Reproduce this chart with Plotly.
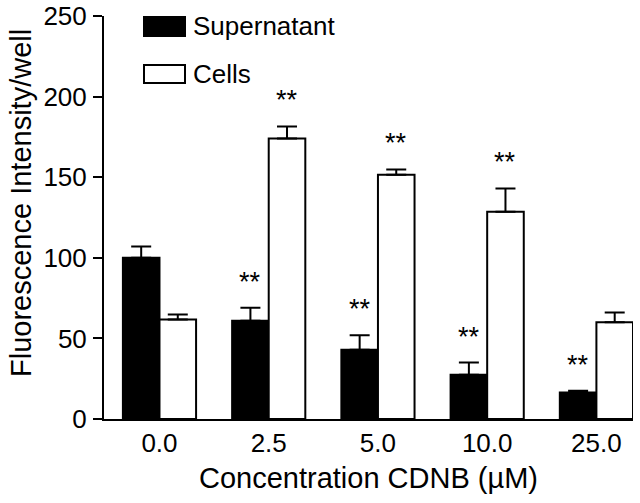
import plotly.graph_objects as go

categories = ["0.0", "2.5", "5.0", "10.0", "25.0"]
supernatant = [100, 61, 43, 27.5, 16.5]
supernatant_err = [7, 8, 9, 7.5, 1]
cells = [61.8, 174, 151.5, 128.5, 60]
cells_err = [3, 7.5, 3.3, 14.5, 6]
sup_sig = ["", "**", "**", "**", "**"]
cells_sig = ["", "**", "**", "**", ""]
y_ticks = [0, 50, 100, 150, 200, 250]

FONT = "Liberation Sans, Arial, sans-serif"
x = list(range(len(categories)))
bargap = 0.33
half = (1 - bargap) / 4

fig = go.Figure()
fig.add_trace(go.Bar(
    x=x, y=supernatant, name="Supernatant",
    marker=dict(color="black", line=dict(color="black", width=2)),
    error_y=dict(type="data", symmetric=False, array=supernatant_err,
                 arrayminus=[0] * len(x), color="black", thickness=2, width=10),
    showlegend=False,
))
fig.add_trace(go.Bar(
    x=x, y=cells, name="Cells",
    marker=dict(color="white", line=dict(color="black", width=2)),
    error_y=dict(type="data", symmetric=False, array=cells_err,
                 arrayminus=[0] * len(x), color="black", thickness=2, width=10),
    showlegend=False,
))

annotations = []
for i in x:
    if sup_sig[i]:
        annotations.append(dict(x=i - half, y=supernatant[i] + supernatant_err[i],
                                xref="x", yref="y", text=sup_sig[i], showarrow=False,
                                yanchor="bottom", yshift=9,
                                font=dict(family=FONT, size=27, color="black")))
    if cells_sig[i]:
        annotations.append(dict(x=i + half, y=cells[i] + cells_err[i],
                                xref="x", yref="y", text=cells_sig[i], showarrow=False,
                                yanchor="bottom", yshift=9,
                                font=dict(family=FONT, size=27, color="black")))

# pixel -> paper helpers for legend / title
L, R, T, B = 104, 7, 16, 84
W, H = 640, 503
pw, ph = W - L - R, H - T - B
def px(xp):
    return (xp - L) / pw
def py(yp):
    return (H - B - yp) / ph

shapes = [
    dict(type="rect", xref="paper", yref="paper", x0=px(144), x1=px(185), y0=py(36), y1=py(17),
         fillcolor="black", line=dict(color="black", width=2)),
    dict(type="rect", xref="paper", yref="paper", x0=px(144), x1=px(185), y0=py(83), y1=py(65),
         fillcolor="white", line=dict(color="black", width=2)),
]
annotations += [
    dict(x=px(191), y=py(26), xref="paper", yref="paper", text="Supernatant", showarrow=False,
         xanchor="left", yanchor="middle", font=dict(family=FONT, size=26, color="black")),
    dict(x=px(191), y=py(74), xref="paper", yref="paper", text="Cells", showarrow=False,
         xanchor="left", yanchor="middle", font=dict(family=FONT, size=26, color="black")),
    dict(x=px(21), y=py(203), xref="paper", yref="paper", text="Fluorescence Intensity/well",
         showarrow=False, textangle=-90, xanchor="center", yanchor="middle",
         font=dict(family=FONT, size=29, color="black")),
]

fig.update_layout(
    width=W, height=H,
    margin=dict(l=L, r=R, t=T, b=B, pad=0),
    paper_bgcolor="white", plot_bgcolor="white",
    barmode="group", bargap=bargap, bargroupgap=0,
    font=dict(family=FONT, color="black"),
    xaxis=dict(
        range=[-0.508, 4.335], tickvals=x, ticktext=categories,
        showline=True, linecolor="black", linewidth=2, ticks="", showgrid=False,
        zeroline=False, tickfont=dict(size=26), automargin=False,
        title=dict(text="Concentration CDNB (µM)", font=dict(size=29), standoff=10),
    ),
    yaxis=dict(
        range=[0, 250], tickvals=y_ticks,
        showline=True, linecolor="black", linewidth=2, ticks="outside", ticklen=9,
        tickwidth=2, tickcolor="black", showgrid=False, zeroline=False,
        tickfont=dict(size=26), automargin=False, ticklabelstandoff=1,
    ),
    shapes=shapes, annotations=annotations,
)

fig.write_html("out.html", config={"displayModeBar": False},
               post_script="document.body.style.margin='0';document.body.style.padding='0';")
